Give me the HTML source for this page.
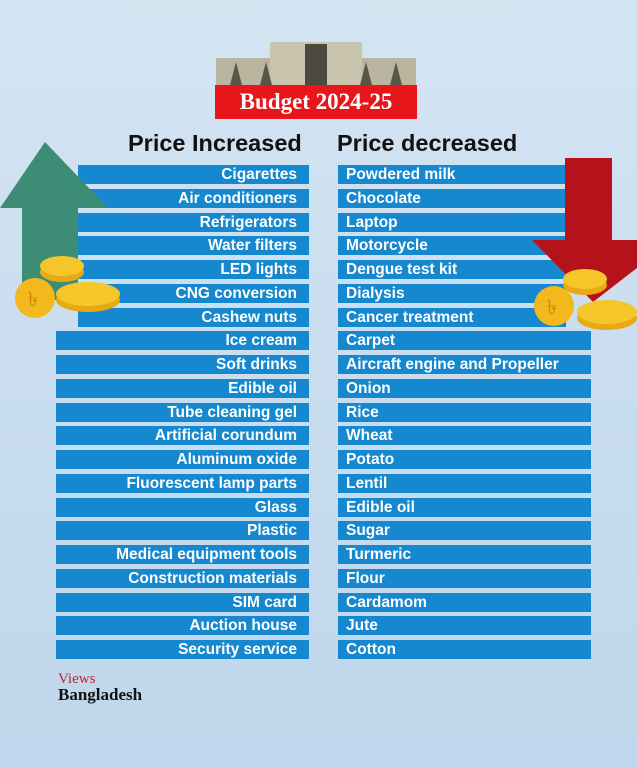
<!DOCTYPE html>
<html><head><meta charset="utf-8"><style>
body{margin:0;width:637px;height:768px;overflow:hidden;background:linear-gradient(180deg,#d4e5f2 0%,#c9ddef 50%,#bfd6ec 100%);font-family:"Liberation Sans",sans-serif;position:relative}
.bar{position:absolute;height:19px;background:#1588cf;color:#fff;font-weight:bold;font-size:15.5px;line-height:19px;white-space:nowrap;box-sizing:border-box}
.l{text-align:right;padding-right:12px}
.r{padding-left:8px}
h2{position:absolute;margin:0;font-size:23.5px;font-weight:bold;color:#111;top:130px}
</style></head><body>
<div style="position:absolute;left:215px;top:85px;width:202px;height:34px;background:#e8161b;color:#fff;font:bold 23px 'Liberation Serif',serif;line-height:34px;text-align:center">Budget 2024-25</div>
<h2 style="left:128px">Price Increased</h2>
<h2 style="left:337px">Price decreased</h2>
<div id="lists"></div>
<svg width="637" height="768" style="position:absolute;left:0;top:0">
<g>
<rect x="216" y="58" width="200" height="27" fill="#b9b59f"/>
<rect x="270" y="42" width="92" height="43" fill="#c8c4ad"/>
<rect x="305" y="44" width="22" height="41" fill="#4a4a40"/>
<path d="M230 85 L236 62 L242 85 Z M260 85 L266 62 L272 85 Z M360 85 L366 62 L372 85 Z M390 85 L396 62 L402 85 Z" fill="#5a5648"/>
</g>
<g>
<polygon points="45,142 108,208 78,208 78,300 22,300 22,208 0,208" fill="#3c8c76"/>
</g>
<g>
<polygon points="565,158 612,158 612,240 637,240 637,268 593,302 532,240 565,240" fill="#b5121b"/>
</g>
<g>
<ellipse cx="88" cy="300" rx="32" ry="12" fill="#e7a914"/><ellipse cx="88" cy="294" rx="32" ry="12" fill="#f5c62a"/>
<ellipse cx="62" cy="272" rx="22" ry="10" fill="#e7a914"/><ellipse cx="62" cy="266" rx="22" ry="10" fill="#f5c62a"/>
<circle cx="35" cy="298" r="20" fill="#f2b81c"/><text x="28" y="306" font-size="20" fill="#c98a00">৳</text>
</g>
<g>
<ellipse cx="607" cy="318" rx="30" ry="12" fill="#e7a914"/><ellipse cx="607" cy="312" rx="30" ry="12" fill="#f5c62a"/>
<ellipse cx="585" cy="285" rx="22" ry="10" fill="#e7a914"/><ellipse cx="585" cy="279" rx="22" ry="10" fill="#f5c62a"/>
<circle cx="554" cy="306" r="20" fill="#f2b81c"/><text x="547" y="314" font-size="20" fill="#c98a00">৳</text>
</g>
</svg>
<div style="position:absolute;left:58px;top:672px;font-family:'Liberation Serif',serif;line-height:15px">
<div style="color:#c0272d;font-size:15px">Views</div><div style="color:#111;font-size:17px;font-weight:bold">Bangladesh</div></div>
<script>
const increased=["Cigarettes","Air conditioners","Refrigerators","Water filters","LED lights","CNG conversion","Cashew nuts","Ice cream","Soft drinks","Edible oil","Tube cleaning gel","Artificial corundum","Aluminum oxide","Fluorescent lamp parts","Glass","Plastic","Medical equipment tools","Construction materials","SIM card","Auction house","Security service"];
const decreased=["Powdered milk","Chocolate","Laptop","Motorcycle","Dengue test kit","Dialysis","Cancer treatment","Carpet","Aircraft engine and Propeller","Onion","Rice","Wheat","Potato","Lentil","Edible oil","Sugar","Turmeric","Flour","Cardamom","Jute","Cotton"];
const host=document.getElementById('lists');
increased.forEach((t,i)=>{const d=document.createElement('div');


d.className='bar l';const left=i<7?78:56;d.style.left=left+'px';d.style.width=(309-left)+'px';d.style.top=(165+i*23.75)+'px';d.textContent=t;host.appendChild(d);});
decreased.forEach((t,i)=>{const d=document.createElement('div');


d.className='bar r';d.style.left='338px';d.style.width=(i<7?228:253)+'px';d.style.top=(165+i*23.75)+'px';d.textContent=t;host.appendChild(d);});
</script>
</body></html>
